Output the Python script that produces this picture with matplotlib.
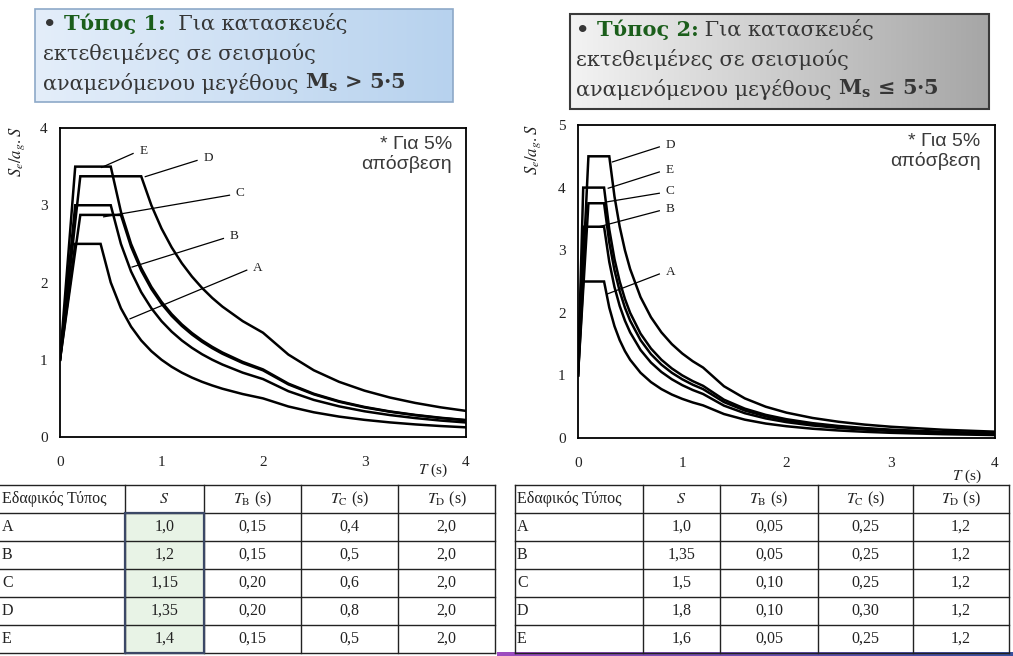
import numpy as np
import matplotlib.pyplot as plt
from matplotlib.patches import Rectangle

plt.rcParams['mathtext.fontset'] = 'stix'
plt.rcParams['font.family'] = ['Liberation Serif', 'DejaVu Serif']

T1 = [0, 0.15, 0.2, 0.4, 0.5, 0.6, 0.7, 0.8, 0.9, 1.0, 1.1, 1.2, 1.3, 1.4, 1.5,
      1.6, 1.8, 2.0, 2.25, 2.5, 2.75, 3.0, 3.25, 3.5, 3.75, 4.0]
T2 = [0, 0.05, 0.1, 0.25, 0.3, 0.35, 0.4, 0.45, 0.5, 0.6, 0.7, 0.8, 0.9, 1.0, 1.1,
      1.2, 1.4, 1.6, 1.8, 2.0, 2.25, 2.5, 2.75, 3.0, 3.5, 4.0]

# Type 1 spectra (Ms > 5.5)
type1_A = [1.0, 2.5, 2.5, 2.5, 2.0, 1.667, 1.429, 1.25, 1.111, 1.0, 0.909, 0.833, 0.769,
           0.714, 0.667, 0.625, 0.556, 0.5, 0.395, 0.32, 0.264, 0.222, 0.189, 0.163, 0.142, 0.125]
type1_B = [1.0, 3.0, 3.0, 3.0, 3.0, 2.5, 2.143, 1.875, 1.667, 1.5, 1.364, 1.25, 1.154,
           1.071, 1.0, 0.938, 0.833, 0.75, 0.593, 0.48, 0.397, 0.333, 0.284, 0.245, 0.213, 0.188]
type1_C = [1.0, 2.406, 2.875, 2.875, 2.875, 2.875, 2.464, 2.156, 1.917, 1.725, 1.568, 1.438, 1.327,
           1.232, 1.15, 1.078, 0.958, 0.863, 0.681, 0.552, 0.456, 0.383, 0.327, 0.282, 0.245, 0.216]
type1_D = [1.0, 2.781, 3.375, 3.375, 3.375, 3.375, 3.375, 3.375, 3.0, 2.7, 2.455, 2.25, 2.077,
           1.929, 1.8, 1.688, 1.5, 1.35, 1.067, 0.864, 0.714, 0.6, 0.511, 0.441, 0.384, 0.338]
type1_E = [1.0, 3.5, 3.5, 3.5, 3.5, 2.917, 2.5, 2.188, 1.944, 1.75, 1.591, 1.458, 1.346,
           1.25, 1.167, 1.094, 0.972, 0.875, 0.691, 0.56, 0.463, 0.389, 0.331, 0.286, 0.249, 0.219]

# Type 2 spectra (Ms <= 5.5)
type2_A = [1.0, 2.5, 2.5, 2.5, 2.083, 1.786, 1.563, 1.389, 1.25, 1.042, 0.893, 0.781, 0.694,
           0.625, 0.568, 0.521, 0.383, 0.293, 0.231, 0.188, 0.148, 0.12, 0.099, 0.083, 0.061, 0.047]
type2_B = [1.0, 3.375, 3.375, 3.375, 2.813, 2.411, 2.109, 1.875, 1.688, 1.406, 1.205, 1.055, 0.938,
           0.844, 0.767, 0.703, 0.517, 0.396, 0.313, 0.253, 0.2, 0.162, 0.134, 0.113, 0.083, 0.063]
type2_C = [1.0, 2.375, 3.75, 3.75, 3.125, 2.679, 2.344, 2.083, 1.875, 1.563, 1.339, 1.172, 1.042,
           0.938, 0.852, 0.781, 0.574, 0.439, 0.347, 0.281, 0.222, 0.18, 0.149, 0.125, 0.092, 0.07]
type2_D = [1.0, 2.75, 4.5, 4.5, 4.5, 3.857, 3.375, 3.0, 2.7, 2.25, 1.929, 1.688, 1.5,
           1.35, 1.227, 1.125, 0.827, 0.633, 0.5, 0.405, 0.32, 0.259, 0.214, 0.18, 0.132, 0.101]
type2_E = [1.0, 4.0, 4.0, 4.0, 3.333, 2.857, 2.5, 2.222, 2.0, 1.667, 1.429, 1.25, 1.111,
           1.0, 0.909, 0.833, 0.612, 0.469, 0.37, 0.3, 0.237, 0.192, 0.159, 0.133, 0.098, 0.075]

# table contents
soil_types = ["A", "B", "C", "D", "E"]
type1_S = ["1,0", "1,2", "1,15", "1,35", "1,4"]
type1_TB = ["0,15", "0,15", "0,20", "0,20", "0,15"]
type1_TC = ["0,4", "0,5", "0,6", "0,8", "0,5"]
type1_TD = ["2,0", "2,0", "2,0", "2,0", "2,0"]
type2_S = ["1,0", "1,35", "1,5", "1,8", "1,6"]
type2_TB = ["0,05", "0,05", "0,10", "0,10", "0,05"]
type2_TC = ["0,25", "0,25", "0,25", "0,30", "0,25"]
type2_TD = ["1,2", "1,2", "1,2", "1,2", "1,2"]
headers = ["Εδαφικός Τύπος", "$S$", "$T_\\mathrm{B}$ (s)", "$T_\\mathrm{C}$ (s)", "$T_\\mathrm{D}$ (s)"]

W, H = 1013, 656
fig = plt.figure(figsize=(W / 100, H / 100), dpi=100)


def px_axes(x0, y0, x1, y1):
    # axes placed with pixel coordinates (top-left origin)
    return fig.add_axes([x0 / W, 1 - y1 / H, (x1 - x0) / W, (y1 - y0) / H])


def draw_chart(ax, T, curves, ymax, leaders):
    for vals in curves:
        ax.plot(T, vals, color='black', lw=1.8, solid_joinstyle='miter')
    for (x0, y0), (x1, y1), lab in leaders:
        ax.plot([x0, x1], [y0, y1], color='black', lw=0.9)
        ax.text(x1 + 0.06, y1 + 0.03, lab, fontsize=9.5, ha='left', va='center',
                family='Liberation Serif', color='#222222')
    ax.set_xlim(0, 4)
    ax.set_ylim(0, ymax)
    ax.set_xticks([0, 1, 2, 3, 4])
    ax.set_yticks(range(0, ymax + 1))
    ax.tick_params(length=0, labelsize=11, colors='#222222')
    ax.tick_params(axis='x', pad=14)
    ax.tick_params(axis='y', pad=9)
    for s in ax.spines.values():
        s.set_linewidth(1.3)
    ax.text(0.965, 0.975, "* Για 5%\nαπόσβεση", transform=ax.transAxes, ha='right', va='top',
            family='Liberation Sans', fontsize=14, color='#3a3a3a', multialignment='right',
            linespacing=1.15)


ax1 = px_axes(60, 128, 466, 437)
draw_chart(ax1, T1, [type1_A, type1_B, type1_C, type1_D, type1_E], 4,
           [((0.43, 2.85), (1.67, 3.13), "C"), ((0.71, 2.20), (1.61, 2.57), "B"),
            ((0.69, 1.53), (1.84, 2.16), "A"), ((0.41, 3.49), (0.72, 3.67), "E"),
            ((0.84, 3.37), (1.35, 3.58), "D")])

ax2 = px_axes(578, 125, 995, 438)
draw_chart(ax2, T2, [type2_A, type2_B, type2_C, type2_D, type2_E], 5,
           [((0.33, 4.41), (0.78, 4.65), "D"), ((0.29, 3.99), (0.78, 4.25), "E"),
            ((0.27, 3.77), (0.78, 3.91), "C"), ((0.19, 3.37), (0.78, 3.63), "B"),
            ((0.28, 2.30), (0.78, 2.62), "A")])

# overlay in pixel coordinates for boxes, labels and tables
ov = fig.add_axes([0, 0, 1, 1])
ov.set_zorder(-1)


def gradient_box(x0, y0, x1, y1, c_left, c_right, edge, lw):
    grad = np.linspace(0, 1, 256)
    cl = np.array(plt.matplotlib.colors.to_rgb(c_left))
    cr = np.array(plt.matplotlib.colors.to_rgb(c_right))
    img = (cl[None, :] * (1 - grad[:, None]) + cr[None, :] * grad[:, None])[None, :, :]
    ov.imshow(img, extent=[x0, x1, y1, y0], aspect='auto', zorder=1)
    ov.add_patch(Rectangle((x0, y0), x1 - x0, y1 - y0, fill=False, ec=edge, lw=lw, zorder=2))


def box_text(x, y_first, title, gap, cmp_sign, size):
    fs = size
    col = '#363636'
    t0 = ov.text(x, y_first, "• ", fontsize=fs, fontweight='bold', color=col,
                 family='DejaVu Serif', va='baseline', zorder=3)
    t1 = ov.annotate(title, xy=(1, 0), xycoords=t0, va='bottom', fontsize=fs,
                     fontweight='bold', color='#1b5e1b', family='DejaVu Serif', zorder=3)
    ov.annotate(gap + "Για κατασκευές", xy=(1, 0), xycoords=t1, va='bottom', fontsize=fs,
                family='DejaVu Serif', color=col, zorder=3)
    ov.text(x, y_first + 30, "εκτεθειμένες σε σεισμούς", fontsize=fs, family='DejaVu Serif',
            color=col, va='baseline', zorder=3)
    t3 = ov.text(x, y_first + 60, "αναμενόμενου μεγέθους ", fontsize=fs, family='DejaVu Serif',
                 color=col, va='baseline', zorder=3)
    ov.annotate("$\\mathbf{M_s}$ " + cmp_sign + " 5·5", xy=(1, 0), xycoords=t3, va='bottom',
                fontsize=fs, fontweight='bold', family='DejaVu Serif', color=col, zorder=3,
                math_fontfamily='dejavuserif')


gradient_box(35, 9, 453, 102, '#e4eefa', '#b7d2ee', '#8da9c8', 1.2)
box_text(43, 30, "Τύπος 1:", "  ", ">", 15)
gradient_box(570, 14, 989, 109, '#f3f3f3', '#a6a6a6', '#3a3a3a', 1.5)
box_text(576, 36, "Τύπος 2:", " ", "≤", 15)

# axis labels
for x, y in [(17, 152), (533, 150)]:
    ov.text(x, y, "$S_e/a_g.S$", rotation=90, ha='center', va='center', fontsize=12,
            color='#222222', zorder=3)
ov.text(433, 470, "$T$ (s)", ha='center', va='center', fontsize=11, color='#222222', zorder=3)
ov.text(967, 476, "$T$ (s)", ha='center', va='center', fontsize=11, color='#222222', zorder=3)


def draw_table(x_edges, y_top, row_h, columns, left_border, highlight):
    n_rows = len(columns[0]) + 1
    y_edges = [y_top + i * row_h for i in range(n_rows + 1)]
    if highlight is not None:
        ov.add_patch(Rectangle((x_edges[highlight], y_edges[1]),
                               x_edges[highlight + 1] - x_edges[highlight],
                               y_edges[-1] - y_edges[1], fc='#e8f3e6', ec='none', zorder=1))
    for y in y_edges:
        ov.plot([x_edges[0], x_edges[-1]], [y, y], color='#222222', lw=1.0, zorder=2)
    for i, x in enumerate(x_edges):
        if i == 0 and not left_border:
            continue
        ov.plot([x, x], [y_edges[0], y_edges[-1]], color='#222222', lw=1.0, zorder=2)
    if highlight is not None:
        ov.add_patch(Rectangle((x_edges[highlight], y_edges[1]),
                               x_edges[highlight + 1] - x_edges[highlight],
                               y_edges[-1] - y_edges[1], fill=False, ec='#3b4866', lw=1.6, zorder=3))
    for c, col in enumerate(columns):
        cells = [headers[c]] + col
        for r, txt in enumerate(cells):
            yc = (y_edges[r] + y_edges[r + 1]) / 2
            if c == 0:
                ov.text(x_edges[0] + 2, yc, txt, ha='left', va='center', fontsize=11.5,
                        color='#222222', zorder=4)
            else:
                ov.text((x_edges[c] + x_edges[c + 1]) / 2, yc, txt, ha='center', va='center',
                        fontsize=11.5, color='#222222', zorder=4)


draw_table([0, 125, 204, 301, 398, 495], 485, 28,
           [soil_types, type1_S, type1_TB, type1_TC, type1_TD], False, 1)
draw_table([515, 643, 720, 818, 913, 1009], 485, 28,
           [soil_types, type2_S, type2_TB, type2_TC, type2_TD], True, None)

# thin coloured strip under the right table
strip = np.linspace(0, 1, 256)
c0 = np.array([0.62, 0.30, 0.75])
c1 = np.array([0.22, 0.32, 0.62])
ov.imshow((c0[None, :] * (1 - strip[:, None]) + c1[None, :] * strip[:, None])[None, :, :],
          extent=[497, 1013, 656, 652], aspect='auto', zorder=1)

ov.set_xlim(0, W)
ov.set_ylim(H, 0)
ov.axis('off')

fig.savefig("out.png", dpi=100)
